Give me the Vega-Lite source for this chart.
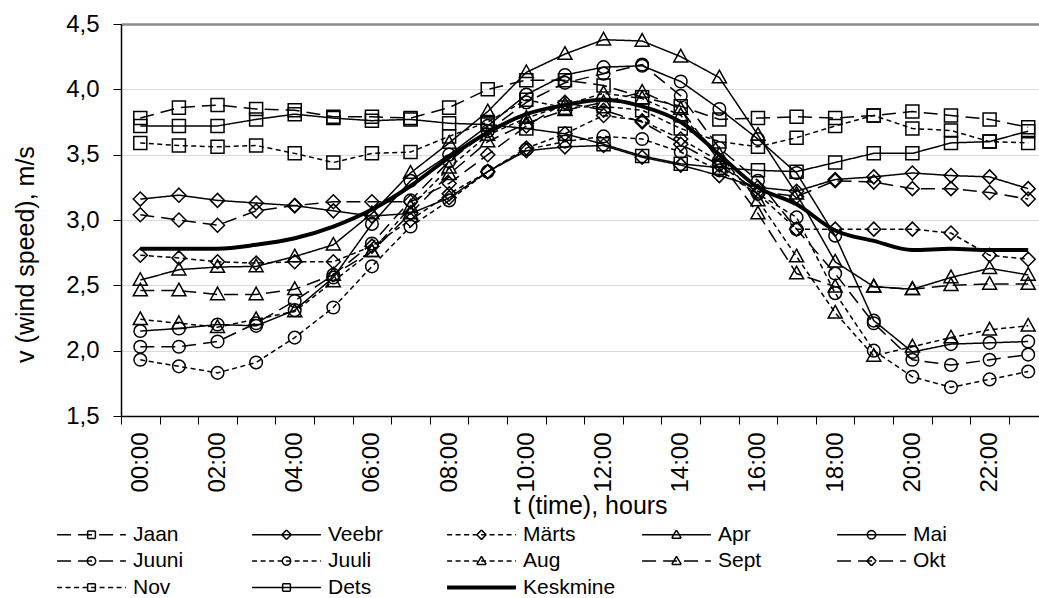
{
  "$schema": "https://vega.github.io/schema/vega-lite/v6.json",
  "autosize": {"type": "none"},
  "padding": {"left": 121, "top": 24, "right": 0, "bottom": 182},
  "width": 918,
  "height": 392,
  "background": "white",
  "config": {
    "font": "Liberation Sans",
    "view": {"stroke": null}
  },
  "data": {"values": [
    {"series":"Jaan","hour":0,"v":3.78},{"series":"Jaan","hour":1,"v":3.86},{"series":"Jaan","hour":2,"v":3.88},{"series":"Jaan","hour":3,"v":3.85},{"series":"Jaan","hour":4,"v":3.84},{"series":"Jaan","hour":5,"v":3.79},{"series":"Jaan","hour":6,"v":3.79},{"series":"Jaan","hour":7,"v":3.78},{"series":"Jaan","hour":8,"v":3.86},{"series":"Jaan","hour":9,"v":4.0},{"series":"Jaan","hour":10,"v":4.07},{"series":"Jaan","hour":11,"v":4.07},{"series":"Jaan","hour":12,"v":4.03},{"series":"Jaan","hour":13,"v":3.94},{"series":"Jaan","hour":14,"v":3.87},{"series":"Jaan","hour":15,"v":3.77},{"series":"Jaan","hour":16,"v":3.78},{"series":"Jaan","hour":17,"v":3.79},{"series":"Jaan","hour":18,"v":3.78},{"series":"Jaan","hour":19,"v":3.8},{"series":"Jaan","hour":20,"v":3.83},{"series":"Jaan","hour":21,"v":3.8},{"series":"Jaan","hour":22,"v":3.77},{"series":"Jaan","hour":23,"v":3.71},
    {"series":"Veebr","hour":0,"v":3.16},{"series":"Veebr","hour":1,"v":3.19},{"series":"Veebr","hour":2,"v":3.15},{"series":"Veebr","hour":3,"v":3.13},{"series":"Veebr","hour":4,"v":3.11},{"series":"Veebr","hour":5,"v":3.07},{"series":"Veebr","hour":6,"v":3.03},{"series":"Veebr","hour":7,"v":3.05},{"series":"Veebr","hour":8,"v":3.17},{"series":"Veebr","hour":9,"v":3.37},{"series":"Veebr","hour":10,"v":3.53},{"series":"Veebr","hour":11,"v":3.56},{"series":"Veebr","hour":12,"v":3.57},{"series":"Veebr","hour":13,"v":3.48},{"series":"Veebr","hour":14,"v":3.42},{"series":"Veebr","hour":15,"v":3.34},{"series":"Veebr","hour":16,"v":3.25},{"series":"Veebr","hour":17,"v":3.22},{"series":"Veebr","hour":18,"v":3.31},{"series":"Veebr","hour":19,"v":3.33},{"series":"Veebr","hour":20,"v":3.36},{"series":"Veebr","hour":21,"v":3.34},{"series":"Veebr","hour":22,"v":3.33},{"series":"Veebr","hour":23,"v":3.24},
    {"series":"Märts","hour":0,"v":2.73},{"series":"Märts","hour":1,"v":2.71},{"series":"Märts","hour":2,"v":2.68},{"series":"Märts","hour":3,"v":2.67},{"series":"Märts","hour":4,"v":2.68},{"series":"Märts","hour":5,"v":2.68},{"series":"Märts","hour":6,"v":2.8},{"series":"Märts","hour":7,"v":3.0},{"series":"Märts","hour":8,"v":3.2},{"series":"Märts","hour":9,"v":3.37},{"series":"Märts","hour":10,"v":3.55},{"series":"Märts","hour":11,"v":3.66},{"series":"Märts","hour":12,"v":3.8},{"series":"Märts","hour":13,"v":3.76},{"series":"Märts","hour":14,"v":3.62},{"series":"Märts","hour":15,"v":3.45},{"series":"Märts","hour":16,"v":3.2},{"series":"Märts","hour":17,"v":2.93},{"series":"Märts","hour":18,"v":2.93},{"series":"Märts","hour":19,"v":2.93},{"series":"Märts","hour":20,"v":2.93},{"series":"Märts","hour":21,"v":2.9},{"series":"Märts","hour":22,"v":2.73},{"series":"Märts","hour":23,"v":2.7},
    {"series":"Apr","hour":0,"v":2.54},{"series":"Apr","hour":1,"v":2.62},{"series":"Apr","hour":2,"v":2.64},{"series":"Apr","hour":3,"v":2.645},{"series":"Apr","hour":4,"v":2.72},{"series":"Apr","hour":5,"v":2.81},{"series":"Apr","hour":6,"v":3.05},{"series":"Apr","hour":7,"v":3.36},{"series":"Apr","hour":8,"v":3.59},{"series":"Apr","hour":9,"v":3.83},{"series":"Apr","hour":10,"v":4.13},{"series":"Apr","hour":11,"v":4.27},{"series":"Apr","hour":12,"v":4.38},{"series":"Apr","hour":13,"v":4.37},{"series":"Apr","hour":14,"v":4.25},{"series":"Apr","hour":15,"v":4.09},{"series":"Apr","hour":16,"v":3.65},{"series":"Apr","hour":17,"v":3.2},{"series":"Apr","hour":18,"v":2.68},{"series":"Apr","hour":19,"v":2.49},{"series":"Apr","hour":20,"v":2.47},{"series":"Apr","hour":21,"v":2.56},{"series":"Apr","hour":22,"v":2.63},{"series":"Apr","hour":23,"v":2.58},
    {"series":"Mai","hour":0,"v":2.15},{"series":"Mai","hour":1,"v":2.17},{"series":"Mai","hour":2,"v":2.2},{"series":"Mai","hour":3,"v":2.19},{"series":"Mai","hour":4,"v":2.31},{"series":"Mai","hour":5,"v":2.56},{"series":"Mai","hour":6,"v":2.97},{"series":"Mai","hour":7,"v":3.3},{"series":"Mai","hour":8,"v":3.5},{"series":"Mai","hour":9,"v":3.72},{"series":"Mai","hour":10,"v":3.96},{"series":"Mai","hour":11,"v":4.11},{"series":"Mai","hour":12,"v":4.17},{"series":"Mai","hour":13,"v":4.18},{"series":"Mai","hour":14,"v":4.06},{"series":"Mai","hour":15,"v":3.85},{"series":"Mai","hour":16,"v":3.62},{"series":"Mai","hour":17,"v":3.36},{"series":"Mai","hour":18,"v":2.88},{"series":"Mai","hour":19,"v":2.23},{"series":"Mai","hour":20,"v":1.99},{"series":"Mai","hour":21,"v":2.05},{"series":"Mai","hour":22,"v":2.06},{"series":"Mai","hour":23,"v":2.07},
    {"series":"Juuni","hour":0,"v":2.03},{"series":"Juuni","hour":1,"v":2.03},{"series":"Juuni","hour":2,"v":2.07},{"series":"Juuni","hour":3,"v":2.21},{"series":"Juuni","hour":4,"v":2.38},{"series":"Juuni","hour":5,"v":2.58},{"series":"Juuni","hour":6,"v":2.82},{"series":"Juuni","hour":7,"v":3.15},{"series":"Juuni","hour":8,"v":3.45},{"series":"Juuni","hour":9,"v":3.68},{"series":"Juuni","hour":10,"v":3.9},{"series":"Juuni","hour":11,"v":4.05},{"series":"Juuni","hour":12,"v":4.12},{"series":"Juuni","hour":13,"v":4.19},{"series":"Juuni","hour":14,"v":3.95},{"series":"Juuni","hour":15,"v":3.55},{"series":"Juuni","hour":16,"v":3.3},{"series":"Juuni","hour":17,"v":2.93},{"series":"Juuni","hour":18,"v":2.59},{"series":"Juuni","hour":19,"v":2.21},{"series":"Juuni","hour":20,"v":1.93},{"series":"Juuni","hour":21,"v":1.89},{"series":"Juuni","hour":22,"v":1.93},{"series":"Juuni","hour":23,"v":1.97},
    {"series":"Juuli","hour":0,"v":1.93},{"series":"Juuli","hour":1,"v":1.88},{"series":"Juuli","hour":2,"v":1.83},{"series":"Juuli","hour":3,"v":1.91},{"series":"Juuli","hour":4,"v":2.1},{"series":"Juuli","hour":5,"v":2.33},{"series":"Juuli","hour":6,"v":2.645},{"series":"Juuli","hour":7,"v":2.95},{"series":"Juuli","hour":8,"v":3.15},{"series":"Juuli","hour":9,"v":3.37},{"series":"Juuli","hour":10,"v":3.54},{"series":"Juuli","hour":11,"v":3.6},{"series":"Juuli","hour":12,"v":3.64},{"series":"Juuli","hour":13,"v":3.62},{"series":"Juuli","hour":14,"v":3.52},{"series":"Juuli","hour":15,"v":3.38},{"series":"Juuli","hour":16,"v":3.2},{"series":"Juuli","hour":17,"v":3.02},{"series":"Juuli","hour":18,"v":2.44},{"series":"Juuli","hour":19,"v":2.0},{"series":"Juuli","hour":20,"v":1.8},{"series":"Juuli","hour":21,"v":1.72},{"series":"Juuli","hour":22,"v":1.78},{"series":"Juuli","hour":23,"v":1.84},
    {"series":"Aug","hour":0,"v":2.24},{"series":"Aug","hour":1,"v":2.21},{"series":"Aug","hour":2,"v":2.18},{"series":"Aug","hour":3,"v":2.24},{"series":"Aug","hour":4,"v":2.3},{"series":"Aug","hour":5,"v":2.53},{"series":"Aug","hour":6,"v":2.76},{"series":"Aug","hour":7,"v":3.1},{"series":"Aug","hour":8,"v":3.4},{"series":"Aug","hour":9,"v":3.65},{"series":"Aug","hour":10,"v":3.78},{"series":"Aug","hour":11,"v":3.88},{"series":"Aug","hour":12,"v":3.97},{"series":"Aug","hour":13,"v":3.93},{"series":"Aug","hour":14,"v":3.8},{"series":"Aug","hour":15,"v":3.5},{"series":"Aug","hour":16,"v":3.15},{"series":"Aug","hour":17,"v":2.72},{"series":"Aug","hour":18,"v":2.29},{"series":"Aug","hour":19,"v":1.96},{"series":"Aug","hour":20,"v":2.03},{"series":"Aug","hour":21,"v":2.1},{"series":"Aug","hour":22,"v":2.16},{"series":"Aug","hour":23,"v":2.19},
    {"series":"Sept","hour":0,"v":2.46},{"series":"Sept","hour":1,"v":2.46},{"series":"Sept","hour":2,"v":2.43},{"series":"Sept","hour":3,"v":2.43},{"series":"Sept","hour":4,"v":2.47},{"series":"Sept","hour":5,"v":2.58},{"series":"Sept","hour":6,"v":2.76},{"series":"Sept","hour":7,"v":3.05},{"series":"Sept","hour":8,"v":3.35},{"series":"Sept","hour":9,"v":3.6},{"series":"Sept","hour":10,"v":3.74},{"series":"Sept","hour":11,"v":3.84},{"series":"Sept","hour":12,"v":3.9},{"series":"Sept","hour":13,"v":3.98},{"series":"Sept","hour":14,"v":3.85},{"series":"Sept","hour":15,"v":3.45},{"series":"Sept","hour":16,"v":3.05},{"series":"Sept","hour":17,"v":2.59},{"series":"Sept","hour":18,"v":2.49},{"series":"Sept","hour":19,"v":2.49},{"series":"Sept","hour":20,"v":2.47},{"series":"Sept","hour":21,"v":2.5},{"series":"Sept","hour":22,"v":2.51},{"series":"Sept","hour":23,"v":2.51},
    {"series":"Okt","hour":0,"v":3.04},{"series":"Okt","hour":1,"v":3.0},{"series":"Okt","hour":2,"v":2.96},{"series":"Okt","hour":3,"v":3.07},{"series":"Okt","hour":4,"v":3.11},{"series":"Okt","hour":5,"v":3.14},{"series":"Okt","hour":6,"v":3.14},{"series":"Okt","hour":7,"v":3.14},{"series":"Okt","hour":8,"v":3.28},{"series":"Okt","hour":9,"v":3.5},{"series":"Okt","hour":10,"v":3.72},{"series":"Okt","hour":11,"v":3.9},{"series":"Okt","hour":12,"v":3.84},{"series":"Okt","hour":13,"v":3.75},{"series":"Okt","hour":14,"v":3.58},{"series":"Okt","hour":15,"v":3.42},{"series":"Okt","hour":16,"v":3.22},{"series":"Okt","hour":17,"v":3.18},{"series":"Okt","hour":18,"v":3.3},{"series":"Okt","hour":19,"v":3.29},{"series":"Okt","hour":20,"v":3.24},{"series":"Okt","hour":21,"v":3.24},{"series":"Okt","hour":22,"v":3.21},{"series":"Okt","hour":23,"v":3.16},
    {"series":"Nov","hour":0,"v":3.59},{"series":"Nov","hour":1,"v":3.57},{"series":"Nov","hour":2,"v":3.56},{"series":"Nov","hour":3,"v":3.57},{"series":"Nov","hour":4,"v":3.51},{"series":"Nov","hour":5,"v":3.44},{"series":"Nov","hour":6,"v":3.51},{"series":"Nov","hour":7,"v":3.52},{"series":"Nov","hour":8,"v":3.64},{"series":"Nov","hour":9,"v":3.75},{"series":"Nov","hour":10,"v":3.92},{"series":"Nov","hour":11,"v":3.86},{"series":"Nov","hour":12,"v":3.87},{"series":"Nov","hour":13,"v":3.84},{"series":"Nov","hour":14,"v":3.7},{"series":"Nov","hour":15,"v":3.6},{"series":"Nov","hour":16,"v":3.56},{"series":"Nov","hour":17,"v":3.63},{"series":"Nov","hour":18,"v":3.72},{"series":"Nov","hour":19,"v":3.8},{"series":"Nov","hour":20,"v":3.7},{"series":"Nov","hour":21,"v":3.685},{"series":"Nov","hour":22,"v":3.6},{"series":"Nov","hour":23,"v":3.59},
    {"series":"Dets","hour":0,"v":3.72},{"series":"Dets","hour":1,"v":3.72},{"series":"Dets","hour":2,"v":3.72},{"series":"Dets","hour":3,"v":3.77},{"series":"Dets","hour":4,"v":3.81},{"series":"Dets","hour":5,"v":3.78},{"series":"Dets","hour":6,"v":3.76},{"series":"Dets","hour":7,"v":3.77},{"series":"Dets","hour":8,"v":3.74},{"series":"Dets","hour":9,"v":3.73},{"series":"Dets","hour":10,"v":3.7},{"series":"Dets","hour":11,"v":3.66},{"series":"Dets","hour":12,"v":3.58},{"series":"Dets","hour":13,"v":3.49},{"series":"Dets","hour":14,"v":3.43},{"series":"Dets","hour":15,"v":3.4},{"series":"Dets","hour":16,"v":3.38},{"series":"Dets","hour":17,"v":3.37},{"series":"Dets","hour":18,"v":3.44},{"series":"Dets","hour":19,"v":3.51},{"series":"Dets","hour":20,"v":3.51},{"series":"Dets","hour":21,"v":3.59},{"series":"Dets","hour":22,"v":3.6},{"series":"Dets","hour":23,"v":3.68},
    {"series":"Keskmine","hour":0,"v":2.78},{"series":"Keskmine","hour":1,"v":2.78},{"series":"Keskmine","hour":2,"v":2.78},{"series":"Keskmine","hour":3,"v":2.81},{"series":"Keskmine","hour":4,"v":2.86},{"series":"Keskmine","hour":5,"v":2.95},{"series":"Keskmine","hour":6,"v":3.08},{"series":"Keskmine","hour":7,"v":3.26},{"series":"Keskmine","hour":8,"v":3.48},{"series":"Keskmine","hour":9,"v":3.67},{"series":"Keskmine","hour":10,"v":3.81},{"series":"Keskmine","hour":11,"v":3.88},{"series":"Keskmine","hour":12,"v":3.92},{"series":"Keskmine","hour":13,"v":3.87},{"series":"Keskmine","hour":14,"v":3.75},{"series":"Keskmine","hour":15,"v":3.5},{"series":"Keskmine","hour":16,"v":3.25},{"series":"Keskmine","hour":17,"v":3.12},{"series":"Keskmine","hour":18,"v":2.92},{"series":"Keskmine","hour":19,"v":2.84},{"series":"Keskmine","hour":20,"v":2.77},{"series":"Keskmine","hour":21,"v":2.78},{"series":"Keskmine","hour":22,"v":2.77},{"series":"Keskmine","hour":23,"v":2.77}
  ]},
  "encoding": {
    "x": {
      "field": "hour", "type": "quantitative",
      "scale": {"domain": [-0.5, 23.28], "nice": false, "zero": false},
      "axis": {
        "values": [-0.5, 0, 0.5, 1.5, 2, 2.5, 3.5, 4, 4.5, 5.5, 6, 6.5, 7.5, 8, 8.5, 9.5, 10, 10.5, 11.5, 12, 12.5, 13.5, 14, 14.5, 15.5, 16, 16.5, 17.5, 18, 18.5, 19.5, 20, 20.5, 21.5, 22, 22.5],
        "labelExpr": "datum.value % 2 === 0 ? ((datum.value < 10 ? '0' : '') + datum.value + ':00') : ''",
        "labelAngle": 270, "labelAlign": "right", "labelBaseline": "middle",
        "labelFontSize": 24, "labelColor": "black", "labelPadding": 8,
        "labelOverlap": false, "labelBound": false, "labelFlush": false,
        "tickSize": 8, "tickColor": "black", "tickWidth": 1,
        "tickOpacity": {"condition": {"test": "datum.value % 1 === 0", "value": 0}, "value": 1},
        "domainColor": "black", "domainWidth": 1.5,
        "grid": false,
        "title": "t (time), hours", "titleFontSize": 25, "titleFontWeight": "normal", "titleColor": "black",
        "titleX": 469, "titleY": 89, "titleAlign": "center", "titleBaseline": "middle"
      }
    },
    "y": {
      "field": "v", "type": "quantitative",
      "scale": {"domain": [1.5, 4.5], "nice": false, "zero": false},
      "axis": {
        "values": [1.5, 2, 2.5, 3, 3.5, 4, 4.5],
        "labelExpr": "replace(format(datum.value, '.1f'), '.', ',')",
        "labelFontSize": 24, "labelColor": "black", "labelPadding": 14,
        "tickSize": 8, "tickColor": "black", "tickWidth": 1,
        "domainColor": "black", "domainWidth": 1.5,
        "grid": true,
        "gridColor": {"condition": {"test": "datum.value === 4.5", "value": "#8c8c8c"}, "value": "#d9d9d9"},
        "gridWidth": {"condition": {"test": "datum.value === 4.5", "value": 2.5}, "value": 1},
        "title": "v (wind speed), m/s", "titleFontSize": 25, "titleFontWeight": "normal", "titleColor": "black",
        "titleX": -96, "titleY": 230, "titleAngle": 270, "titleAlign": "center", "titleBaseline": "middle"
      }
    }
  },
  "layer": [
    {
      "transform": [{"filter": "datum.series !== 'Keskmine'"}],
      "mark": {"type": "line", "color": "black", "strokeWidth": 1.5},
      "encoding": {
        "detail": {"field": "series"},
        "strokeDash": {
          "field": "series", "type": "nominal", "legend": null,
          "scale": {
            "domain": ["Jaan","Veebr","Märts","Apr","Mai","Juuni","Juuli","Aug","Sept","Okt","Nov","Dets"],
            "range": [[14,7],[1,0],[5,3.5],[1,0],[1,0],[14,7],[5,3.5],[5,3.5],[14,7],[14,7],[5,3.5],[1,0]]
          }
        }
      }
    },
    {
      "transform": [{"filter": "datum.series === 'Keskmine'"}],
      "mark": {"type": "line", "color": "black", "strokeWidth": 4, "interpolate": "monotone"},
      "encoding": {}
    },
    {
      "transform": [{"filter": "datum.series !== 'Keskmine'"}],
      "mark": {"type": "point", "filled": false, "color": "black", "strokeWidth": 1.5, "size": 196, "opacity": 1},
      "encoding": {
        "shape": {
          "field": "series", "type": "nominal", "legend": null,
          "scale": {
            "domain": ["Jaan","Veebr","Märts","Apr","Mai","Juuni","Juuli","Aug","Sept","Okt","Nov","Dets"],
            "range": [
              "M-0.93,-0.93H0.93V0.93H-0.93Z",
              "M0,-1L1,0L0,1L-1,0Z",
              "M0,-1L1,0L0,1L-1,0Z",
              "M0,-1.05L1,0.75H-1Z",
              "M0.9,0A0.9,0.9,0,1,1,-0.9,0A0.9,0.9,0,1,1,0.9,0Z",
              "M0.9,0A0.9,0.9,0,1,1,-0.9,0A0.9,0.9,0,1,1,0.9,0Z",
              "M0.9,0A0.9,0.9,0,1,1,-0.9,0A0.9,0.9,0,1,1,0.9,0Z",
              "M0,-1.05L1,0.75H-1Z",
              "M0,-1.05L1,0.75H-1Z",
              "M0,-1L1,0L0,1L-1,0Z",
              "M-0.93,-0.93H0.93V0.93H-0.93Z",
              "M-0.93,-0.93H0.93V0.93H-0.93Z"
            ]
          }
        }
      }
    },
    {
      "transform": [{"filter": "datum.hour < 0"}],
      "mark": {"type": "point", "filled": false, "color": "black", "opacity": 1, "strokeWidth": 1.5},
      "encoding": {
        "shape": {
          "field": "series", "type": "nominal",
          "scale": {
            "domain": ["Jaan","Veebr","Märts","Apr","Mai","Juuni","Juuli","Aug","Sept","Okt","Nov","Dets","Keskmine"],
            "range": [
              "M-8,0H8M-0.9,-0.9H-0.3M-0.3,-0.9H0.3M0.3,-0.9H0.9M0.9,-0.9V-0.3M0.9,-0.3V0.3M0.9,0.3V0.9M0.9,0.9H0.3M0.3,0.9H-0.3M-0.3,0.9H-0.9M-0.9,0.9V0.3M-0.9,0.3V-0.3M-0.9,-0.3V-0.9",
              "M-8,0H8M0,-1.1L0.367,-0.733M0.367,-0.733L0.733,-0.367M0.733,-0.367L1.1,0M1.1,0L0.733,0.367M0.733,0.367L0.367,0.733M0.367,0.733L0,1.1M0,1.1L-0.367,0.733M-0.367,0.733L-0.733,0.367M-0.733,0.367L-1.1,0M-1.1,0L-0.733,-0.367M-0.733,-0.367L-0.367,-0.733M-0.367,-0.733L0,-1.1",
              "M-8,0H8M0,-1.1L0.367,-0.733M0.367,-0.733L0.733,-0.367M0.733,-0.367L1.1,0M1.1,0L0.733,0.367M0.733,0.367L0.367,0.733M0.367,0.733L0,1.1M0,1.1L-0.367,0.733M-0.367,0.733L-0.733,0.367M-0.733,0.367L-1.1,0M-1.1,0L-0.733,-0.367M-0.733,-0.367L-0.367,-0.733M-0.367,-0.733L0,-1.1",
              "M-8,0H8M0,-1.1L0.275,-0.625M0.275,-0.625L0.55,-0.15M0.55,-0.15L0.825,0.325M0.825,0.325L1.1,0.8M1.1,0.8H0.55M0.55,0.8H0M0,0.8H-0.55M-0.55,0.8H-1.1M-1.1,0.8L-0.825,0.325M-0.825,0.325L-0.55,-0.15M-0.55,-0.15L-0.275,-0.625M-0.275,-0.625L0,-1.1",
              "M-8,0H8M1,0L0.866,0.5M0.866,0.5L0.5,0.866M0.5,0.866L0,1M0,1L-0.5,0.866M-0.5,0.866L-0.866,0.5M-0.866,0.5L-1,0M-1,0L-0.866,-0.5M-0.866,-0.5L-0.5,-0.866M-0.5,-0.866L0,-1M0,-1L0.5,-0.866M0.5,-0.866L0.866,-0.5M0.866,-0.5L1,0",
              "M-8,0H8M1,0L0.866,0.5M0.866,0.5L0.5,0.866M0.5,0.866L0,1M0,1L-0.5,0.866M-0.5,0.866L-0.866,0.5M-0.866,0.5L-1,0M-1,0L-0.866,-0.5M-0.866,-0.5L-0.5,-0.866M-0.5,-0.866L0,-1M0,-1L0.5,-0.866M0.5,-0.866L0.866,-0.5M0.866,-0.5L1,0",
              "M-8,0H8M1,0L0.866,0.5M0.866,0.5L0.5,0.866M0.5,0.866L0,1M0,1L-0.5,0.866M-0.5,0.866L-0.866,0.5M-0.866,0.5L-1,0M-1,0L-0.866,-0.5M-0.866,-0.5L-0.5,-0.866M-0.5,-0.866L0,-1M0,-1L0.5,-0.866M0.5,-0.866L0.866,-0.5M0.866,-0.5L1,0",
              "M-8,0H8M0,-1.1L0.275,-0.625M0.275,-0.625L0.55,-0.15M0.55,-0.15L0.825,0.325M0.825,0.325L1.1,0.8M1.1,0.8H0.55M0.55,0.8H0M0,0.8H-0.55M-0.55,0.8H-1.1M-1.1,0.8L-0.825,0.325M-0.825,0.325L-0.55,-0.15M-0.55,-0.15L-0.275,-0.625M-0.275,-0.625L0,-1.1",
              "M-8,0H8M0,-1.1L0.275,-0.625M0.275,-0.625L0.55,-0.15M0.55,-0.15L0.825,0.325M0.825,0.325L1.1,0.8M1.1,0.8H0.55M0.55,0.8H0M0,0.8H-0.55M-0.55,0.8H-1.1M-1.1,0.8L-0.825,0.325M-0.825,0.325L-0.55,-0.15M-0.55,-0.15L-0.275,-0.625M-0.275,-0.625L0,-1.1",
              "M-8,0H8M0,-1.1L0.367,-0.733M0.367,-0.733L0.733,-0.367M0.733,-0.367L1.1,0M1.1,0L0.733,0.367M0.733,0.367L0.367,0.733M0.367,0.733L0,1.1M0,1.1L-0.367,0.733M-0.367,0.733L-0.733,0.367M-0.733,0.367L-1.1,0M-1.1,0L-0.733,-0.367M-0.733,-0.367L-0.367,-0.733M-0.367,-0.733L0,-1.1",
              "M-8,0H8M-0.9,-0.9H-0.3M-0.3,-0.9H0.3M0.3,-0.9H0.9M0.9,-0.9V-0.3M0.9,-0.3V0.3M0.9,0.3V0.9M0.9,0.9H0.3M0.3,0.9H-0.3M-0.3,0.9H-0.9M-0.9,0.9V0.3M-0.9,0.3V-0.3M-0.9,-0.3V-0.9",
              "M-8,0H8M-0.9,-0.9H-0.3M-0.3,-0.9H0.3M0.3,-0.9H0.9M0.9,-0.9V-0.3M0.9,-0.3V0.3M0.9,0.3V0.9M0.9,0.9H0.3M0.3,0.9H-0.3M-0.3,0.9H-0.9M-0.9,0.9V0.3M-0.9,0.3V-0.3M-0.9,-0.3V-0.9",
              "M-8,-0.3H8M-8,-0.1H8M-8,0.1H8M-8,0.3H8"
            ]
          },
          "legend": {
            "title": null, "orient": "none", "legendX": -40, "legendY": 500,
            "columns": 5, "direction": "horizontal", "gridAlign": "all",
            "symbolSize": 74, "symbolStrokeColor": "black", "symbolFillColor": "transparent",
            "labelFontSize": 21, "labelColor": "black", "labelOffset": 31, "labelLimit": 0,
            "columnPadding": 23, "rowPadding": 4.5
          }
        },
        "strokeDash": {
          "field": "series", "type": "nominal",
          "scale": {
            "domain": ["Jaan","Veebr","Märts","Apr","Mai","Juuni","Juuli","Aug","Sept","Okt","Nov","Dets","Keskmine"],
            "range": [[14,7],[1,0],[5,3.5],[1,0],[1,0],[14,7],[5,3.5],[5,3.5],[14,7],[14,7],[5,3.5],[1,0],[1,0]]
          },
          "legend": {
            "title": null, "orient": "none", "legendX": -40, "legendY": 500,
            "columns": 5, "direction": "horizontal", "gridAlign": "all",
            "symbolSize": 74, "symbolStrokeColor": "black", "symbolFillColor": "transparent",
            "labelFontSize": 21, "labelColor": "black", "labelOffset": 31, "labelLimit": 0,
            "columnPadding": 23, "rowPadding": 4.5
          }
        }
      }
    }
  ],
  "resolve": {"scale": {"shape": "independent", "strokeDash": "independent"}}
}
